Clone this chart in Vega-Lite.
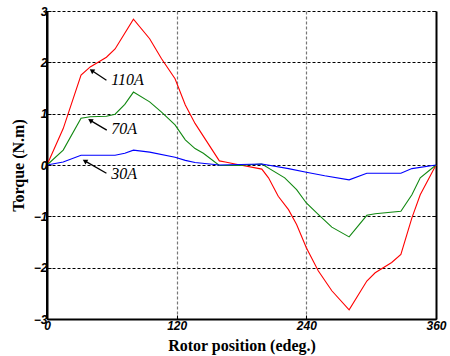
{
  "$schema": "https://vega.github.io/schema/vega-lite/v6.json",
  "width": 389,
  "height": 308,
  "autosize": "none",
  "padding": {"left": 47, "top": 11, "right": 14, "bottom": 37},
  "background": "white",
  "config": {
    "view": {"stroke": null},
    "axis": {
      "labelFont": "Liberation Sans",
      "labelFontStyle": "italic",
      "labelFontWeight": "bold",
      "labelFontSize": 12,
      "labelColor": "black",
      "labelFlush": false,
      "titleFont": "Liberation Serif",
      "titleFontWeight": "bold",
      "titleFontSize": 16,
      "titleColor": "black",
      "domainColor": "black",
      "domainWidth": 2,
      "tickColor": "black",
      "tickSize": -4,
      "tickWidth": 1
    }
  },
  "datasets": {
    "torque": [
      {"pos": 0, "torque": 0, "current": "110A"},
      {"pos": 15, "torque": 0.71, "current": "110A"},
      {"pos": 31.5, "torque": 1.75, "current": "110A"},
      {"pos": 40, "torque": 1.91, "current": "110A"},
      {"pos": 55, "torque": 2.1, "current": "110A"},
      {"pos": 63, "torque": 2.26, "current": "110A"},
      {"pos": 80, "torque": 2.84, "current": "110A"},
      {"pos": 95, "torque": 2.46, "current": "110A"},
      {"pos": 106, "torque": 2.07, "current": "110A"},
      {"pos": 118.5, "torque": 1.68, "current": "110A"},
      {"pos": 128, "torque": 1.17, "current": "110A"},
      {"pos": 137, "torque": 0.81, "current": "110A"},
      {"pos": 159.5, "torque": 0.08, "current": "110A"},
      {"pos": 165, "torque": 0.06, "current": "110A"},
      {"pos": 174, "torque": 0.02, "current": "110A"},
      {"pos": 198.8, "torque": -0.08, "current": "110A"},
      {"pos": 205, "torque": -0.25, "current": "110A"},
      {"pos": 214, "torque": -0.61, "current": "110A"},
      {"pos": 223.5, "torque": -0.87, "current": "110A"},
      {"pos": 231, "torque": -1.16, "current": "110A"},
      {"pos": 240, "torque": -1.61, "current": "110A"},
      {"pos": 251, "torque": -2.06, "current": "110A"},
      {"pos": 263.6, "torque": -2.45, "current": "110A"},
      {"pos": 279.6, "torque": -2.82, "current": "110A"},
      {"pos": 296, "torque": -2.26, "current": "110A"},
      {"pos": 303.7, "torque": -2.1, "current": "110A"},
      {"pos": 319, "torque": -1.9, "current": "110A"},
      {"pos": 327.5, "torque": -1.74, "current": "110A"},
      {"pos": 337.7, "torque": -1.03, "current": "110A"},
      {"pos": 345.4, "torque": -0.58, "current": "110A"},
      {"pos": 360, "torque": 0, "current": "110A"},

      {"pos": 0, "torque": 0, "current": "70A"},
      {"pos": 15, "torque": 0.29, "current": "70A"},
      {"pos": 31.5, "torque": 0.91, "current": "70A"},
      {"pos": 40, "torque": 0.94, "current": "70A"},
      {"pos": 55, "torque": 0.95, "current": "70A"},
      {"pos": 63, "torque": 0.99, "current": "70A"},
      {"pos": 72, "torque": 1.18, "current": "70A"},
      {"pos": 80, "torque": 1.42, "current": "70A"},
      {"pos": 95, "torque": 1.23, "current": "70A"},
      {"pos": 106, "torque": 1.03, "current": "70A"},
      {"pos": 118.5, "torque": 0.78, "current": "70A"},
      {"pos": 128, "torque": 0.49, "current": "70A"},
      {"pos": 137, "torque": 0.32, "current": "70A"},
      {"pos": 144.7, "torque": 0.23, "current": "70A"},
      {"pos": 159.5, "torque": -0.01, "current": "70A"},
      {"pos": 177, "torque": -0.01, "current": "70A"},
      {"pos": 198.8, "torque": 0.02, "current": "70A"},
      {"pos": 220, "torque": -0.25, "current": "70A"},
      {"pos": 231, "torque": -0.48, "current": "70A"},
      {"pos": 240, "torque": -0.74, "current": "70A"},
      {"pos": 251, "torque": -0.96, "current": "70A"},
      {"pos": 263.6, "torque": -1.21, "current": "70A"},
      {"pos": 279.6, "torque": -1.4, "current": "70A"},
      {"pos": 296, "torque": -0.98, "current": "70A"},
      {"pos": 303.7, "torque": -0.95, "current": "70A"},
      {"pos": 327.5, "torque": -0.9, "current": "70A"},
      {"pos": 337.7, "torque": -0.58, "current": "70A"},
      {"pos": 345.4, "torque": -0.25, "current": "70A"},
      {"pos": 360, "torque": 0, "current": "70A"},

      {"pos": 0, "torque": 0, "current": "30A"},
      {"pos": 15, "torque": 0.06, "current": "30A"},
      {"pos": 31.5, "torque": 0.19, "current": "30A"},
      {"pos": 63, "torque": 0.19, "current": "30A"},
      {"pos": 72, "torque": 0.23, "current": "30A"},
      {"pos": 80, "torque": 0.29, "current": "30A"},
      {"pos": 95, "torque": 0.25, "current": "30A"},
      {"pos": 118.5, "torque": 0.15, "current": "30A"},
      {"pos": 128, "torque": 0.09, "current": "30A"},
      {"pos": 137, "torque": 0.05, "current": "30A"},
      {"pos": 159.5, "torque": 0, "current": "30A"},
      {"pos": 198.8, "torque": 0.02, "current": "30A"},
      {"pos": 223.5, "torque": -0.07, "current": "30A"},
      {"pos": 240, "torque": -0.14, "current": "30A"},
      {"pos": 257, "torque": -0.21, "current": "30A"},
      {"pos": 279.6, "torque": -0.29, "current": "30A"},
      {"pos": 296, "torque": -0.16, "current": "30A"},
      {"pos": 327.5, "torque": -0.16, "current": "30A"},
      {"pos": 337.7, "torque": -0.07, "current": "30A"},
      {"pos": 360, "torque": 0, "current": "30A"}
    ],
    "labels": [
      {"label": "110A", "tx": 58.5, "ty": 1.65, "hx": 41.4, "hy": 1.84, "ex": 55, "ey": 1.65, "angle": 304},
      {"label": "70A", "tx": 58.5, "ty": 0.7, "hx": 40, "hy": 0.87, "ex": 55.3, "ey": 0.68, "angle": 301},
      {"label": "30A", "tx": 58.5, "ty": -0.17, "hx": 35, "hy": 0.08, "ex": 55, "ey": -0.16, "angle": 300}
    ],
    "edges": [
      {"pos": 0}
    ]
  },
  "resolve": {"axis": {"y": "independent"}},
  "layer": [
    {
      "layer": [
        {
          "data": {"name": "torque"},
          "mark": {"type": "line", "strokeWidth": 1.1},
          "encoding": {
            "x": {
              "field": "pos",
              "type": "quantitative",
              "scale": {"domain": [0, 360], "nice": false},
              "axis": {
                "title": "Rotor position (edeg.)",
                "values": [0, 120, 240, 360],
                "grid": true,
                "gridColor": {
                  "condition": {"test": "datum.value == 0 || datum.value == 360", "value": "transparent"},
                  "value": "#777777"
                },
                "gridDash": [3, 2],
                "gridWidth": 1.2,
                "labelPadding": 5,
                "titlePadding": 6
              }
            },
            "y": {
              "field": "torque",
              "type": "quantitative",
              "scale": {"domain": [-3, 3], "nice": false},
              "axis": {
                "title": "Torque (N.m)",
                "values": [-3, -2, -1, 0, 1, 2, 3],
                "grid": true,
                "gridColor": {
                  "condition": {"test": "datum.value == -3", "value": "transparent"},
                  "value": "black"
                },
                "gridDash": [3, 2],
                "gridWidth": 1,
                "labelPadding": 4,
                "titlePadding": 7
              }
            },
            "color": {
              "field": "current",
              "type": "nominal",
              "scale": {"domain": ["110A", "70A", "30A"], "range": ["#ff0000", "#118811", "#0000ff"]},
              "legend": null
            },
            "detail": {"field": "current"}
          }
        },
        {
          "data": {"name": "edges"},
          "mark": {"type": "rule", "color": "black", "strokeWidth": 2},
          "encoding": {
            "x": {"field": "pos", "type": "quantitative"}
          }
        },
        {
          "data": {"name": "labels"},
          "mark": {"type": "rule", "color": "black", "strokeWidth": 1.3},
          "encoding": {
            "x": {"field": "hx", "type": "quantitative"},
            "y": {"field": "hy", "type": "quantitative"},
            "x2": {"field": "ex"},
            "y2": {"field": "ey"}
          }
        },
        {
          "data": {"name": "labels"},
          "mark": {"type": "point", "shape": "triangle-up", "filled": true, "color": "black", "size": 30, "opacity": 1},
          "encoding": {
            "x": {"field": "hx", "type": "quantitative"},
            "y": {"field": "hy", "type": "quantitative"},
            "angle": {"field": "angle", "type": "quantitative", "scale": null}
          }
        },
        {
          "data": {"name": "labels"},
          "mark": {"type": "text", "align": "left", "baseline": "middle", "font": "Liberation Serif", "fontStyle": "italic", "fontSize": 16, "color": "black", "dx": 1},
          "encoding": {
            "x": {"field": "tx", "type": "quantitative"},
            "y": {"field": "ty", "type": "quantitative"},
            "text": {"field": "label"}
          }
        }
      ]
    },
    {
      "data": {"name": "torque"},
      "mark": {"type": "rule", "opacity": 0},
      "encoding": {
        "y": {
          "field": "torque",
          "type": "quantitative",
          "scale": {"domain": [-3, 3], "nice": false},
          "axis": {
            "orient": "right",
            "title": null,
            "labels": false,
            "values": [-3, -2, -1, 0, 1, 2, 3],
            "grid": false
          }
        }
      }
    }
  ]
}
